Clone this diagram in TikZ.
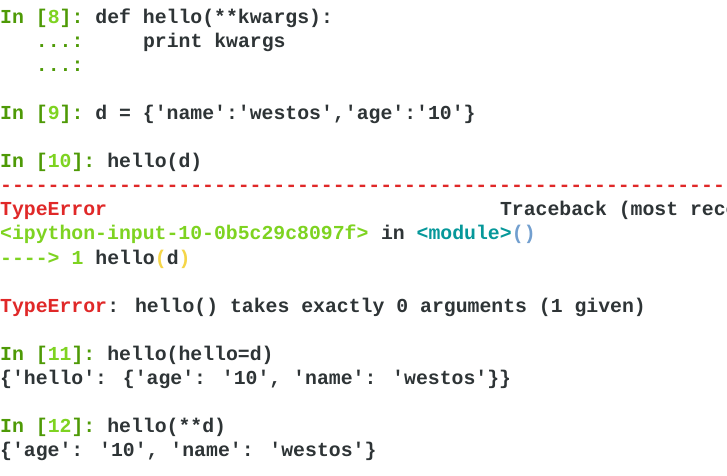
\documentclass[tikz,border=0pt]{standalone}
\usepackage{fontspec}
\newfontfamily\term[Scale=1]{Liberation Mono Bold}
\definecolor{dg}{HTML}{4E9A06}
\definecolor{lg}{HTML}{7ED321}
\definecolor{tx}{HTML}{2E3436}
\definecolor{rd}{HTML}{E02828}
\definecolor{tl}{HTML}{06989A}
\definecolor{bl}{HTML}{729FCF}
\definecolor{yl}{HTML}{F5D547}
\newcommand\seg[4]{\node[seg,text=#3] (n#1x#2) at ({#2*11.9pt},{-(23+24.1*#1)*1pt}) {#4};}
\begin{document}
\begin{tikzpicture}[seg/.style={anchor=base west,inner sep=0pt,font=\term\fontsize{19.8pt}{24pt}\selectfont}]
\useasboundingbox[fill=white] (0,0) rectangle (727pt,-475pt);
\clip (0,0) rectangle (727pt,-475pt);
\seg{0}{0}{dg}{In [}\seg{0}{4}{lg}{8}\seg{0}{5}{dg}{]:}\seg{0}{8}{tx}{def hello(**kwargs):}
\seg{1}{3}{dg}{...:}\seg{1}{12}{tx}{print kwargs}
\seg{2}{3}{dg}{...:}
\seg{4}{0}{dg}{In [}\seg{4}{4}{lg}{9}\seg{4}{5}{dg}{]:}\seg{4}{8}{tx}{d = \{'name':'westos','age':'10'\}}
\seg{6}{0}{dg}{In [}\seg{6}{4}{lg}{10}\seg{6}{6}{dg}{]:}\seg{6}{9}{tx}{hello(d)}
\seg{7}{0}{rd}{---------------------------------------------------------------------------}
\seg{8}{0}{rd}{TypeError}\seg{8}{42}{tx}{Traceback (most recent call last)}
\seg{9}{0}{lg}{<ipython-input-10-0b5c29c8097f>}\seg{9}{32}{tx}{in}\seg{9}{35}{tl}{<module>}\seg{9}{43}{bl}{()}
\seg{10}{0}{lg}{---->}\seg{10}{6}{lg}{1}\seg{10}{8}{tx}{hello}\seg{10}{13}{yl}{(}\seg{10}{14}{tx}{d}\seg{10}{15}{yl}{)}
\seg{12}{0}{rd}{TypeError}\seg{12}{9}{tx}{: hello() takes exactly 0 arguments (1 given)}
\seg{14}{0}{dg}{In [}\seg{14}{4}{lg}{11}\seg{14}{6}{dg}{]:}\seg{14}{9}{tx}{hello(hello=d)}
\seg{15}{0}{tx}{\{'hello': \{'age': '10', 'name': 'westos'\}\}}
\seg{17}{0}{dg}{In [}\seg{17}{4}{lg}{12}\seg{17}{6}{dg}{]:}\seg{17}{9}{tx}{hello(**d)}
\seg{18}{0}{tx}{\{'age': '10', 'name': 'westos'\}}
\end{tikzpicture}
\end{document}
